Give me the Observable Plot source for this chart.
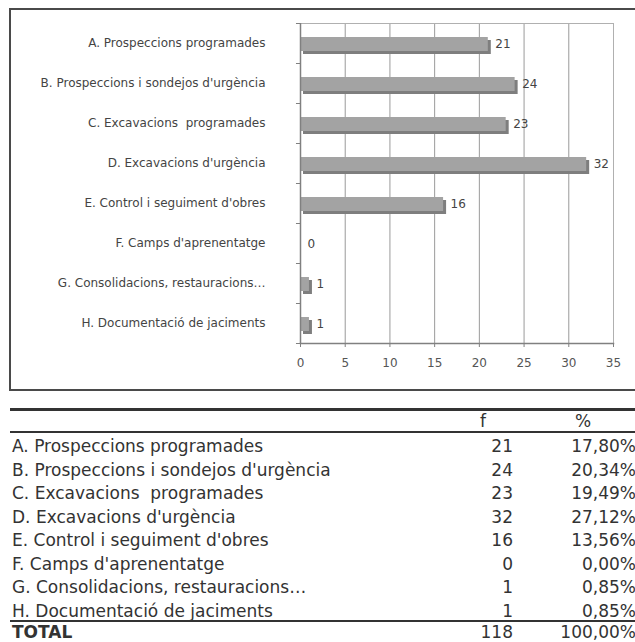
<!DOCTYPE html>
<html>
<head>
<meta charset="utf-8">
<script src="https://cdn.jsdelivr.net/npm/d3@7"></script>
<script src="https://cdn.jsdelivr.net/npm/@observablehq/plot@0.6"></script>
<style>
  html, body { margin: 0; padding: 0; background: #fff; }
  body { width: 635px; height: 642px; position: relative; overflow: hidden; font-family: "DejaVu Sans", Verdana, sans-serif; }
  #box { position: absolute; left: 9px; top: 8px; width: 640px; height: 383px; box-sizing: border-box; border: 2px solid #4a4a4a; }
  #chart { position: absolute; left: 0; top: 0; }
  #table { position: absolute; left: 0; top: 0; width: 635px; height: 642px; color: #333; font-size: 17px; }
  .hl { position: absolute; left: 10px; width: 630px; background: #333; }
  .cell { position: absolute; white-space: pre; line-height: 22px; height: 22px; }
</style>
</head>
<body>
<div id="box"></div>
<div id="chart"></div>
<div id="table"></div>
<script>
const categories = [
  "A. Prospeccions programades",
  "B. Prospeccions i sondejos d'urgència",
  "C. Excavacions  programades",
  "D. Excavacions d'urgència",
  "E. Control i seguiment d'obres",
  "F. Camps d'aprenentatge",
  "G. Consolidacions, restauracions…",
  "H. Documentació de jaciments"
];
const values = [21, 24, 23, 32, 16, 0, 1, 1];
const percents = ["17,80%", "20,34%", "19,49%", "27,12%", "13,56%", "0,00%", "0,85%", "0,85%"];
const xTicks = [0, 5, 10, 15, 20, 25, 30, 35];
const totalLabel = "TOTAL";
const totalValue = 118;
const totalPercent = "100,00%";
const headers = ["f", "%"];

const data = categories.map((c, i) => ({category: c, value: values[i]}));
const lastCat = [categories[categories.length - 1]];

const chart = Plot.plot({
  width: 635,
  height: 400,
  marginLeft: 300,
  marginRight: 22,
  marginTop: 23,
  marginBottom: 57,
  style: {background: "transparent", fontFamily: "DejaVu Sans, Verdana, sans-serif", fontSize: "12px", color: "#444"},
  x: {domain: [0, 35], label: null},
  y: {domain: categories, paddingInner: 0.65, paddingOuter: 0.325, label: null},
  marks: [
    Plot.gridX(xTicks, {stroke: "#9a9a9a", strokeOpacity: 1}),
    Plot.frame({stroke: "#b0b0b0"}),
    Plot.barX(data, {y: "category", x1: 0, x2: "value", fill: "#7e7e7e", dx: 3, dy: 4}),
    Plot.barX(data, {y: "category", x1: 0, x2: "value", fill: "#a3a3a3", dy: 1}),
    Plot.ruleX([0], {stroke: "#808080", strokeWidth: 1.5}),
    Plot.frame({anchor: "bottom", stroke: "#808080", strokeWidth: 1.5}),
    Plot.ruleY(categories, {y: d => d, x1: -0.45, x2: 0, dy: -20, stroke: "#808080"}),
    Plot.ruleY(lastCat, {y: d => d, x1: -0.45, x2: 0, dy: 20, stroke: "#808080"}),
    Plot.text(data, {y: "category", x: "value", text: d => String(d.value), textAnchor: "start", dx: 7, dy: 1, fill: "#444", fontSize: 12}),
    Plot.axisX({ticks: xTicks, tickSize: 4, tickPadding: 11, stroke: "#808080", tickFormat: d => String(d), fill: "#555", label: null}),
    Plot.axisY({tickSize: 0, tickPadding: 35, fill: "#444", label: null})
  ]
});
document.getElementById("chart").appendChild(chart);

// Table below the chart
const t = document.getElementById("table");
function line(y, h) {
  const d = document.createElement("div");
  d.className = "hl"; d.style.top = y + "px"; d.style.height = h + "px";
  t.appendChild(d);
}
function cell(text, y, opts) {
  const d = document.createElement("div");
  d.className = "cell";
  d.textContent = text;
  d.style.top = (y - 11) + "px";
  if (opts.left != null) d.style.left = opts.left + "px";
  if (opts.right != null) { d.style.right = (635 - opts.right) + "px"; d.style.textAlign = "right"; }
  if (opts.center != null) { d.style.left = (opts.center - 50) + "px"; d.style.width = "100px"; d.style.textAlign = "center"; }
  if (opts.bold) d.style.fontWeight = "bold";
  t.appendChild(d);
}
line(408, 3);
cell(headers[0], 421, {center: 483});
cell(headers[1], 421, {center: 583});
line(431, 2);
const rowH = 23.5;
categories.forEach((c, i) => {
  const y = 446 + rowH * i;
  cell(c, y, {left: 12});
  cell(String(values[i]), y, {right: 513});
  cell(percents[i], y, {right: 636});
});
line(620, 2);
cell(totalLabel, 632, {left: 12, bold: true});
cell(String(totalValue), 632, {right: 513});
cell(totalPercent, 632, {right: 636});
</script>
</body>
</html>
